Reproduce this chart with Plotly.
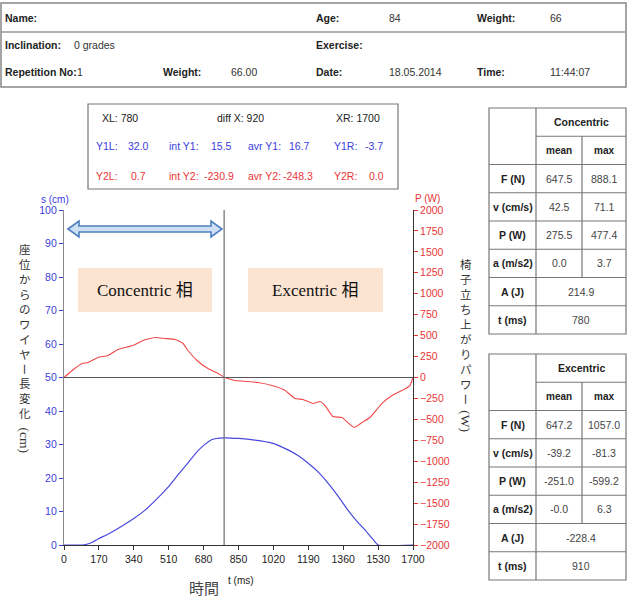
import plotly.graph_objects as go

# ---------------- data ----------------
t_s = [0, 92, 130, 166, 225, 283, 340, 395, 450, 507, 555, 604, 640, 672, 721, 780, 850, 930, 1013,
       1091, 1140, 1188, 1240, 1286, 1335, 1383, 1425, 1466, 1505, 1530, 1700]
s_cm = [0, 0, 0.6, 1.8, 3.6, 5.7, 7.9, 10.4, 13.6, 17.3, 20.9, 24.5, 27.3, 29.3, 31.5, 32.0, 31.8, 31.3, 30.4,
        28.4, 26.7, 24.5, 21.7, 18.5, 14.6, 10.4, 7.2, 4.5, 1.7, 0, 0]

t_p = [0, 40, 88, 117, 166, 214, 263, 336, 385, 443, 492, 541, 580, 604, 648, 701, 750, 784,
       833, 896, 945, 1013, 1077, 1125, 1164, 1213, 1247, 1271, 1310, 1354, 1413, 1452, 1490,
       1549, 1598, 1646, 1685, 1700]
p_w = [0, 84, 167, 179, 239, 263, 334, 382, 442, 478, 466, 454, 406, 322, 203, 107, 48, 0,
       -36, -48, -60, -96, -155, -251, -263, -310, -287, -334, -466, -478, -597, -537, -478,
       -310, -215, -155, -96, 0]

x_ticks = [0, 170, 340, 510, 680, 850, 1020, 1190, 1360, 1530, 1700]
s_ticks = list(range(0, 101, 10))
p_ticks = list(range(-2000, 2001, 250))
cursor_x = 780

header_rows = [
    [("Name:", 4, True), ("Age:", 315, True), ("84", 388, False), ("Weight:", 476, True), ("66", 549, False)],
    [("Inclination:", 4, True), ("0 grades", 73, False), ("Exercise:", 315, True)],
    [("Repetition No:", 4, True), ("1", 76, False), ("Weight:", 162, True), ("66.00", 230, False),
     ("Date:", 315, True), ("18.05.2014", 388, False), ("Time:", 476, True), ("11:44:07", 549, False)],
]

info_row1 = [("XL: 780", 120), ("diff X: 920", 240), ("XR: 1700", 358)]
info_row2 = [("Y1L:", 95), ("32.0", 127), ("int Y1:", 168), ("15.5", 210), ("avr Y1:", 247), ("16.7", 288), ("Y1R:", 333), ("-3.7", 364)]
info_row3 = [("Y2L:", 95), ("0.7", 130), ("int Y2:", 168), ("-230.9", 203), ("avr Y2:", 247), ("-248.3", 282), ("Y2R:", 333), ("0.0", 368)]

row_labels = ["F (N)", "v (cm/s)", "P (W)", "a (m/s2)"]
conc_mean = ["647.5", "42.5", "275.5", "0.0"]
conc_max = ["888.1", "71.1", "477.4", "3.7"]
conc_A, conc_t = "214.9", "780"
exc_mean = ["647.2", "-39.2", "-251.0", "-0.0"]
exc_max = ["1057.0", "-81.3", "-599.2", "6.3"]
exc_A, exc_t = "-228.4", "910"

left_label = "座位からのワイヤー長変化(cm)"
right_label = "椅子立ち上がりパワー(W)"

# ---------------- geometry helpers ----------------
W, H = 628, 601
PL, PR, PT, PB = 64, 413, 210, 545

def px(x):
    return (x - PL) / (PR - PL)

def py(y):
    return (PB - y) / (PB - PT)

BLUE = "#3c3cdc"
RED = "#e83535"
SANS = "Liberation Sans, Arial, sans-serif"
SERIF = "Liberation Serif, Noto Sans CJK JP, serif"
CJK = "Noto Sans CJK JP, sans-serif"

fig = go.Figure()
fig.add_trace(go.Scatter(x=t_s, y=s_cm, mode="lines", line=dict(color="#4848e0", width=1.2, shape="spline", smoothing=0.4),
                         yaxis="y", showlegend=False, hoverinfo="skip"))
fig.add_trace(go.Scatter(x=t_p, y=p_w, mode="lines", line=dict(color="#f04848", width=1.1, shape="spline", smoothing=0.4),
                         yaxis="y2", showlegend=False, hoverinfo="skip"))

shapes = []
ann = []

def line(x0, y0, x1, y1, color="#888", width=1):
    shapes.append(dict(type="line", xref="paper", yref="paper", x0=px(x0), y0=py(y0), x1=px(x1), y1=py(y1),
                       line=dict(color=color, width=width), layer="above"))

def rect(x0, y0, x1, y1, color="#888", width=1, fill="rgba(0,0,0,0)"):
    shapes.append(dict(type="rect", xref="paper", yref="paper", x0=px(x0), y0=py(y0), x1=px(x1), y1=py(y1),
                       line=dict(color=color, width=width), fillcolor=fill, layer="below"))

def text(t, x, y, size=11, color="#222", anchor="left", font=SANS, angle=0):
    ann.append(dict(text=t, xref="paper", yref="paper", x=px(x), y=py(y), xanchor=anchor, yanchor="middle",
                    showarrow=False, font=dict(size=size, color=color, family=font), textangle=angle, borderpad=0))

# reference lines (data based)
shapes.append(dict(type="line", xref="paper", yref="y", x0=0, x1=1, y0=50, y1=50, line=dict(color="#555", width=1)))
shapes.append(dict(type="line", xref="x", yref="y", x0=cursor_x, x1=cursor_x, y0=0, y1=100, line=dict(color="#777", width=1.3)))

# header table
rect(1, 3, 626, 87, color="#888", width=1.5)
line(1, 32, 626, 32, color="#999", width=1.5)
for r, ry in zip(header_rows, [18, 45, 72]):
    for t, x, b in r:
        text(f"<b>{t}</b>" if b else t, x, ry, size=10.5, color="#222" if b else "#333")

# info box
rect(88, 104, 398, 189, color="#777", width=1.2)
for t, x in info_row1:
    text(t, x, 118, size=10.5, color="#222", anchor="center")
for t, x in info_row2:
    text(t, x, 146, size=10.5, color=BLUE)
for t, x in info_row3:
    text(t, x, 176, size=10.5, color=RED)

# stats tables
def stats_table(top, bottom, title, means, maxs, a_val, t_val):
    x0, x1, x2, x3 = 489, 536, 582, 626
    rh = (bottom - top) / 8
    ys = [top + i * rh for i in range(9)]
    rect(x0, top, x3, bottom, color="#777", width=1.2)
    line(x1, top, x1, bottom, color="#777", width=1.2)
    line(x1, ys[1], x3, ys[1], color="#777", width=1.2)
    for i in range(2, 8):
        line(x0, ys[i], x3, ys[i], color="#777", width=1.2)
    line(x2, ys[1], x2, ys[6], color="#777", width=1.2)
    c1, cm, cx, cw = (x0 + x1) / 2, (x1 + x2) / 2, (x2 + x3) / 2, (x1 + x3) / 2
    text(f"<b>{title}</b>", cw, (ys[0] + ys[1]) / 2, size=10.5, anchor="center")
    text("<b>mean</b>", cm, (ys[1] + ys[2]) / 2, size=10, anchor="center")
    text("<b>max</b>", cx, (ys[1] + ys[2]) / 2, size=10, anchor="center")
    for i, (lab, mv, xv) in enumerate(zip(row_labels, means, maxs)):
        yy = (ys[2 + i] + ys[3 + i]) / 2
        text(f"<b>{lab}</b>", c1, yy, size=10.5, anchor="center")
        text(mv, cm, yy, size=10.5, color="#444", anchor="center")
        text(xv, cx, yy, size=10.5, color="#444", anchor="center")
    text("<b>A (J)</b>", c1, (ys[6] + ys[7]) / 2, size=10.5, anchor="center")
    text(a_val, cw, (ys[6] + ys[7]) / 2, size=10.5, color="#444", anchor="center")
    text("<b>t (ms)</b>", c1, (ys[7] + ys[8]) / 2, size=10.5, anchor="center")
    text(t_val, cw, (ys[7] + ys[8]) / 2, size=10.5, color="#444", anchor="center")

stats_table(108, 334, "Concentric", conc_mean, conc_max, conc_A, conc_t)
stats_table(354, 580, "Excentric", exc_mean, exc_max, exc_A, exc_t)

# phase boxes
rect(78, 268, 212, 312, color="rgba(0,0,0,0)", width=0, fill="#fbe4d2")
rect(248, 268, 383, 312, color="rgba(0,0,0,0)", width=0, fill="#fbe4d2")
text("Concentric 相", 145, 290, size=17, color="#111", anchor="center", font=SERIF)
text("Excentric 相", 315, 290, size=17, color="#111", anchor="center", font=SERIF)

# double arrow
pts = [(68, 229), (79, 221), (79, 226), (211, 226), (211, 221), (222, 229), (211, 237), (211, 232), (79, 232), (79, 237)]
path = "M " + " L ".join(f"{px(x):.5f},{py(y):.5f}" for x, y in pts) + " Z"
shapes.append(dict(type="path", xref="paper", yref="paper", path=path, fillcolor="#cfe0f4",
                   line=dict(color="#4f7fbf", width=1.6), layer="above"))

# axis titles
text("s (cm)", 55, 199, size=10, color=BLUE, anchor="center")
text("P (W)", 427, 198, size=10, color=RED, anchor="center")
text("t (ms)", 241, 580, size=10, color="#222", anchor="center")
text("時間", 204, 587, size=15, color="#444", anchor="center", font=CJK)

# vertical CJK labels: upright runs stacked with <br>, long-vowel mark and (unit) rotated
def vertical(label, xc, y0, size):
    pitch = size * 1.3
    y = y0
    run = ""
    def flush(run, y_end):
        if run:
            n = len(run)
            yc = y_end - pitch * (n + 1) / 2
            text("<br>".join(run), xc, yc, size=size, color="#333", anchor="center", font=CJK)
    i = 0
    while i < len(label):
        ch = label[i]
        if ch == "(":
            flush(run, y)
            run = ""
            seg = label[i:]
            seg_len = (size + 2) * 0.5 * len(seg) + 6
            text(seg, xc, y - pitch / 2 + seg_len / 2 + 2, size=size + 2, color="#333", anchor="center",
                 font=SERIF, angle=90)
            return
        if ch == "ー":
            flush(run, y)
            run = ""
            text(ch, xc, y + 1, size=size, color="#333", anchor="center", font=CJK, angle=90)
        else:
            run += ch
        y += pitch
        i += 1
    flush(run, y)

vertical(left_label, 25, 249, 11.5)
vertical(right_label, 466, 264, 11.5)

fig.update_layout(
    width=W, height=H,
    margin=dict(l=PL, r=W - PR, t=PT, b=H - PB, pad=0),
    paper_bgcolor="white", plot_bgcolor="white",
    shapes=shapes, annotations=ann,
    xaxis=dict(range=[0, 1700], tickvals=x_ticks, ticks="outside", ticklen=4, tickcolor="#333",
               showline=True, linecolor="#333", linewidth=1, showgrid=False, zeroline=False,
               tickfont=dict(family=SANS, size=10.5, color="#222")),
    yaxis=dict(range=[0, 100], tickvals=s_ticks, ticks="outside", ticklen=4, tickcolor=BLUE,
               showline=True, linecolor="#888", linewidth=1.3, showgrid=False, zeroline=False,
               tickfont=dict(family=SANS, size=10.5, color=BLUE)),
    yaxis2=dict(range=[-2000, 2000], tickvals=p_ticks, overlaying="y", side="right", ticks="outside", ticklen=4,
                tickcolor=RED, showline=True, linecolor="#333", linewidth=1, showgrid=False, zeroline=False,
                tickfont=dict(family=SANS, size=10.5, color=RED)),
    showlegend=False,
)

fig.write_html("out.html")
